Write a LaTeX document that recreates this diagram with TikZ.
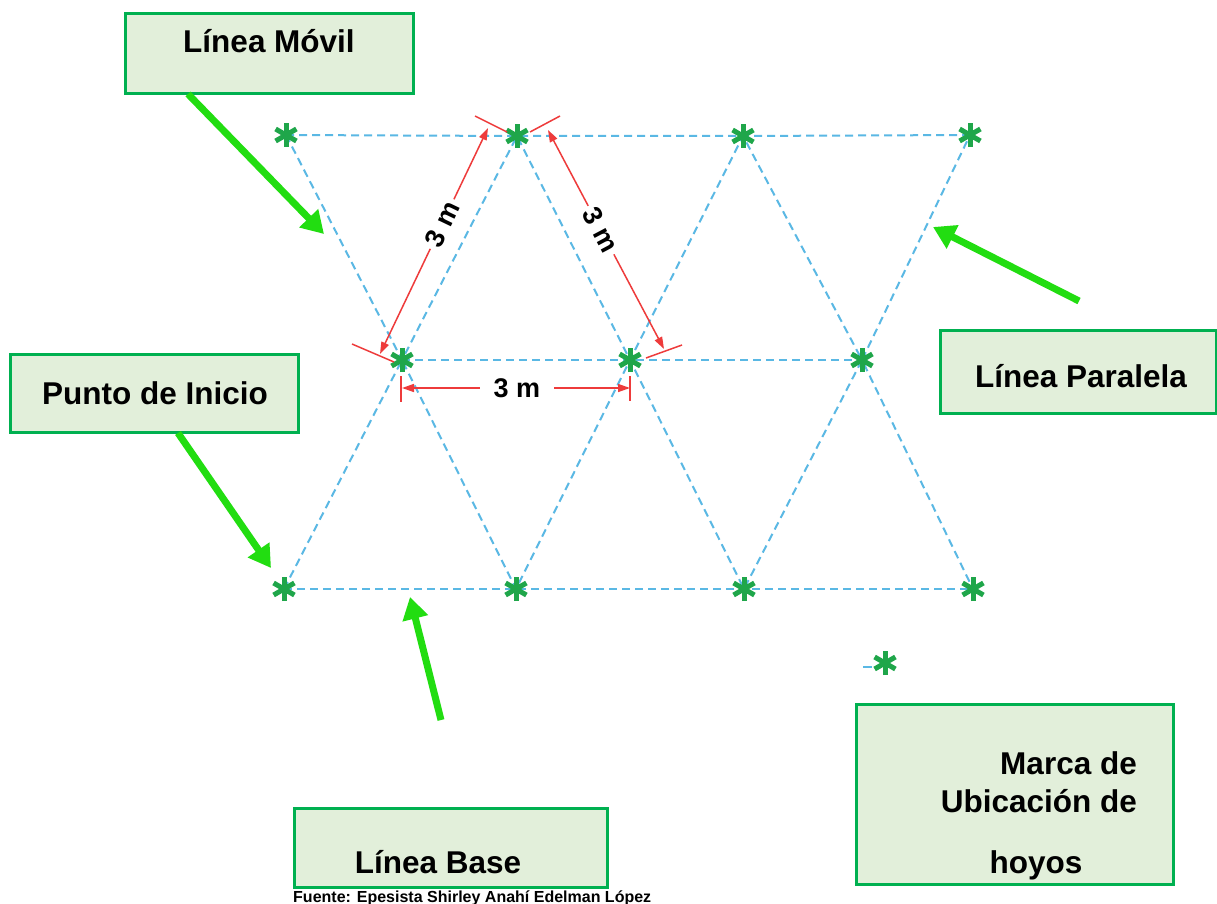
\documentclass[tikz,border=0pt]{standalone}
\usepackage{fontspec}
\setmainfont{Liberation Sans}
\usetikzlibrary{arrows.meta}

\definecolor{boxfill}{HTML}{E2EFDA}
\definecolor{boxedge}{HTML}{00B050}
\definecolor{pointer}{HTML}{22DD11}
\definecolor{holegreen}{HTML}{1FA64A}
\definecolor{gridblue}{HTML}{5AB8E4}
\definecolor{dimred}{HTML}{EE3B3B}

\begin{document}
\begin{tikzpicture}[x=1pt,y=-1pt,
  box/.style={draw=boxedge, fill=boxfill, line width=3pt, inner sep=0pt},
  lbl/.style={font=\fontsize{31.5}{36}\selectfont\bfseries, anchor=base, inner sep=0pt},
  caption/.style={font=\fontsize{16}{18}\selectfont\bfseries, anchor=base west, inner sep=0pt},
  gridline/.style={gridblue, line width=2pt, dash pattern=on 8pt off 5pt},
  pointerarrow/.style={pointer, line width=7pt, -{Triangle[length=22pt,width=25pt]}},
  dimline/.style={dimred, line width=1.5pt},
  dimarrow/.style={dimline, -{Triangle[length=12pt,width=8pt]}},
  dimtext/.style={font=\fontsize{27}{30}\selectfont\bfseries, inner sep=4pt},
  hole/.pic={\foreach \a in {90,30,150} \draw[holegreen, line width=5pt] (\a:12) -- (\a+180:12);}
]
% canvas
\path[fill=white] (0,0) rectangle (1217,904);
\useasboundingbox (0,0) rectangle (1217,904);

% grid points (hole locations)
\coordinate (t1) at (286,135);
\coordinate (t2) at (517,136);
\coordinate (t3) at (743,136);
\coordinate (t4) at (970,135);
\coordinate (m1) at (402,360);
\coordinate (m2) at (630,360);
\coordinate (m3) at (862,360);
\coordinate (b1) at (284,589);
\coordinate (b2) at (516,589);
\coordinate (b3) at (744,589);
\coordinate (b4) at (973,589);
\coordinate (legend) at (885,663);

% dashed layout lines
\draw[gridline] (t1) -- (t2) -- (t3) -- (t4);
\draw[gridline] (m1) -- (m2) -- (m3);
\draw[gridline] (b1) -- (b2) -- (b3) -- (b4);
\draw[gridline] (t1) -- (m1) -- (t2) -- (m2) -- (t3) -- (m3) -- (t4);
\draw[gridline] (b1) -- (m1) -- (b2) -- (m2) -- (b3) -- (m3) -- (b4);
\coordinate (lg1) at (863,667);
\coordinate (lg2) at (872,667);
\draw[gridblue, line width=2pt] (lg1) -- (lg2);

% holes
\foreach \p in {t1,t2,t3,t4,m1,m2,m3,b1,b2,b3,b4,legend}
  \pic at (\p) {hole};

% dimension: left slanted side
\coordinate (dL1) at (380,354);
\coordinate (dL2) at (488,128);
\path (dL1) -- node[dimtext, sloped, pos=0.575] (dLt) {3 m} (dL2);
\draw[dimarrow] (dLt) -- (dL1);
\draw[dimarrow] (dLt) -- (dL2);
\coordinate (eLt1) at (475,116);
\coordinate (eLt2) at (507,132);
\draw[dimline] (eLt1) -- (eLt2);
\coordinate (eLb1) at (352,344);
\coordinate (eLb2) at (394,362);
\draw[dimline] (eLb1) -- (eLb2);

% dimension: right slanted side
\coordinate (dR1) at (548,130);
\coordinate (dR2) at (664,349);
\path (dR1) -- node[dimtext, sloped, pos=0.457] (dRt) {3 m} (dR2);
\draw[dimarrow] (dRt) -- (dR1);
\draw[dimarrow] (dRt) -- (dR2);
\coordinate (eRt1) at (530,132);
\coordinate (eRt2) at (560,116);
\draw[dimline] (eRt1) -- (eRt2);
\coordinate (eRb1) at (646,358);
\coordinate (eRb2) at (682,345);
\draw[dimline] (eRb1) -- (eRb2);

% dimension: horizontal spacing
\coordinate (dH1) at (402,388);
\coordinate (dH2) at (630,388);
\node[dimtext, inner xsep=14pt] (dHt) at (517,388) {3 m};
\draw[dimarrow] (dHt) -- (dH1);
\draw[dimarrow] (dHt) -- (dH2);
\coordinate (eH1a) at (401,376);
\coordinate (eH1b) at (401,402);
\draw[dimline] (eH1a) -- (eH1b);
\coordinate (eH2a) at (630,376);
\coordinate (eH2b) at (630,401);
\draw[dimline] (eH2a) -- (eH2b);

% label boxes
\node[box, minimum width=288pt, minimum height=80pt] (bMovil) at (269,54) {};
\node[lbl] (tMovil) at (269,53) {Línea Móvil};

\node[box, minimum width=288pt, minimum height=78pt] (bInicio) at (154,393) {};
\node[lbl] (tInicio) at (155,404) {Punto de Inicio};

\node[box, minimum width=276pt, minimum height=83pt] (bParalela) at (1078,371.5) {};
\node[lbl] (tParalela) at (1081,387) {Línea Paralela};

\node[box, minimum width=313pt, minimum height=79pt] (bBase) at (450.5,847.5) {};
\node[lbl] (tBase) at (438,873) {Línea Base};

\node[box, minimum width=317pt, minimum height=180pt] (bMarca) at (1014.5,794) {};
\node[lbl, anchor=base east] (tMarca1) at (1137,774) {Marca de};
\node[lbl, anchor=base east] (tMarca2) at (1137,812) {Ubicación de};
\node[lbl] (tMarca3) at (1036,873) {hoyos};

% pointer arrows
\coordinate (pM1) at (188,94);
\coordinate (pM2) at (324,234);
\draw[pointerarrow] (pM1) -- (pM2);
\coordinate (pP1) at (1079,301);
\coordinate (pP2) at (933,227);
\draw[pointerarrow] (pP1) -- (pP2);
\coordinate (pI1) at (178,433);
\coordinate (pI2) at (271,568);
\draw[pointerarrow] (pI1) -- (pI2);
\coordinate (pB1) at (441,720);
\coordinate (pB2) at (410,597);
\draw[pointerarrow] (pB1) -- (pB2);

% source line
\node[caption] (src) at (293,902) {Fuente: Epesista Shirley Anahí Edelman López};
\end{tikzpicture}
\end{document}
